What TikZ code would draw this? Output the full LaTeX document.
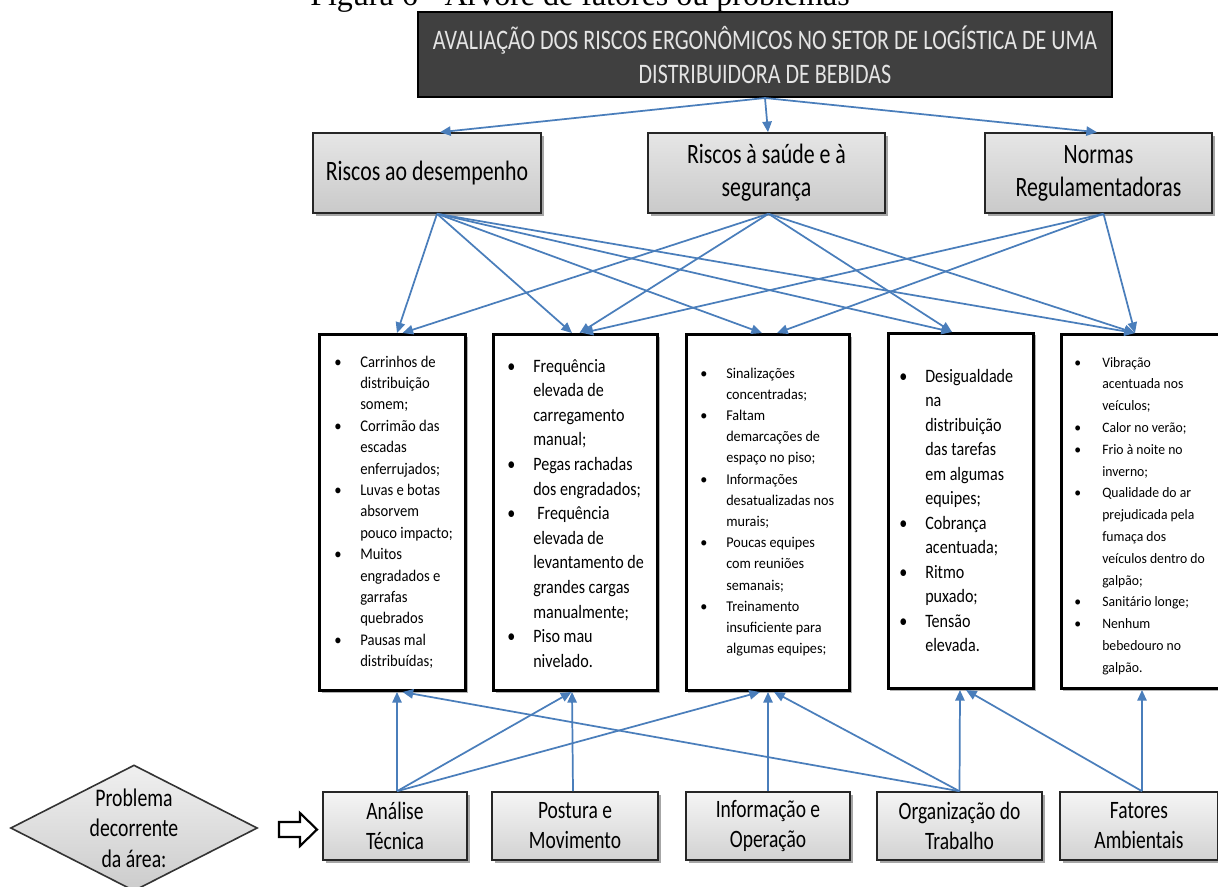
\documentclass[tikz,border=0pt]{standalone}
\usepackage{fontspec}
\setmainfont{Carlito}[FakeStretch=0.78]
\newfontfamily\listfont{Carlito}[FakeStretch=0.85]
\newfontfamily\tightfont{Carlito}[FakeStretch=0.95]
\newfontfamily\narrowfont{Carlito}[FakeStretch=0.9]
\newfontfamily\capfont{Liberation Serif}
\usetikzlibrary{shapes.geometric,shadows,arrows.meta,calc}
\definecolor{linkblue}{RGB}{74,126,187}
\definecolor{titlefill}{RGB}{64,64,64}
\definecolor{titletext}{RGB}{228,228,228}
\tikzset{
  conn/.style={draw=linkblue, line width=1.3pt, -{Triangle[length=8pt,width=7pt]}},
  upper/.style={draw=black!85, line width=1.2pt, top color=gray!20, bottom color=gray!42,
    inner sep=0pt, align=center, font=\fontsize{21}{24.75}\selectfont,
    drop shadow={shadow xshift=2pt, shadow yshift=-2pt, opacity=0.35, fill=black}},
  lower/.style={upper, top color=gray!8, bottom color=gray!35, font=\fontsize{18.75}{22.5}\selectfont},
  listbox/.style={draw=black, line width=2.2pt, fill=white, inner sep=0pt,
    drop shadow={shadow xshift=1.5pt, shadow yshift=-1.5pt, opacity=0.3, fill=black}},
  listtext/.style={anchor=base west, inner sep=0pt},
}
\begin{document}
\begin{tikzpicture}[x=0.75pt,y=-0.75pt]
\useasboundingbox (0,0) rectangle (1218,886);
\fill[white] (0,0) rectangle (1218,886);

% caption (cut off at the top, as in the source)
\node[anchor=base, inner sep=0pt, font=\capfont\fontsize{24}{28}\selectfont] (cap) at (580,5) {Figura 6 - Árvore de fatores ou problemas};

% title
\node[draw=black, line width=1.5pt, fill=titlefill, text=titletext, minimum width=520.5pt,
  minimum height=63.75pt, inner sep=0pt, align=center, font=\fontsize{21.2}{25.5}\selectfont]
  (T) at (765,54.5) {AVALIAÇÃO DOS RISCOS ERGONÔMICOS NO SETOR DE LOGÍSTICA DE UMA\\DISTRIBUIDORA DE BEBIDAS};

% upper level
\node[upper, minimum width=171pt, minimum height=60pt] (r1) at (427,173) {Riscos ao desempenho};
\node[upper, minimum width=177.75pt, minimum height=60pt] (r2) at (766.5,173) {Riscos à saúde e à\\segurança};
\node[upper, minimum width=170.25pt, minimum height=60pt] (r3) at (1098.5,173) {Normas\\Regulamentadoras};

% list boxes
\node[listbox, minimum width=109.5pt, minimum height=267pt] (b1) at (392.5,512.5) {};
\node[listbox, minimum width=123pt, minimum height=267pt] (b2) at (575.5,512.5) {};
\node[listbox, minimum width=122.3pt, minimum height=267pt] (b3) at (768,512.5) {};
\node[listbox, minimum width=108.8pt, minimum height=266.3pt] (b4) at (961,511) {};
\node[listbox, minimum width=119.3pt, minimum height=265.5pt] (b5) at (1141,511.5) {};

\node[listtext] (t1) at (334,367) {\narrowfont\fontsize{12.2}{16.05}\selectfont
\begin{tabular}[t]{@{}p{19.5pt}@{}l@{}}
\textbullet & Carrinhos de\\
 & distribuição\\
 & somem;\\
\textbullet & Corrimão das\\
 & escadas\\
 & enferrujados;\\
\textbullet & Luvas e botas\\
 & absorvem\\
 & pouco impacto;\\
\textbullet & Muitos\\
 & engradados e\\
 & garrafas\\
 & quebrados\\
\textbullet & Pausas mal\\
 & distribuídas;
\end{tabular}};

\node[listtext] (t2) at (507,372) {\listfont\fontsize{14.2}{18.45}\selectfont
\begin{tabular}[t]{@{}p{19.5pt}@{}l@{}}
\textbullet & Frequência\\
 & elevada de\\
 & carregamento\\
 & manual;\\
\textbullet & Pegas rachadas\\
 & dos engradados;\\
\textbullet & \hspace{3pt}Frequência\\
 & elevada de\\
 & levantamento de\\
 & grandes cargas\\
 & manualmente;\\
\textbullet & Piso mau\\
 & nivelado.
\end{tabular}};

\node[listtext] (t3) at (700,378) {\tightfont\fontsize{11.2}{15.9}\selectfont
\begin{tabular}[t]{@{}p{19.5pt}@{}l@{}}
\textbullet & Sinalizações\\
 & concentradas;\\
\textbullet & Faltam\\
 & demarcações de\\
 & espaço no piso;\\
\textbullet & Informações\\
 & desatualizadas nos\\
 & murais;\\
\textbullet & Poucas equipes\\
 & com reuniões\\
 & semanais;\\
\textbullet & Treinamento\\
 & insuficiente para\\
 & algumas equipes;
\end{tabular}};

\node[listtext] (t4) at (899,382) {\listfont\fontsize{14.2}{18.4}\selectfont
\begin{tabular}[t]{@{}p{19.5pt}@{}l@{}}
\textbullet & Desigualdade\\
 & na\\
 & distribuição\\
 & das tarefas\\
 & em algumas\\
 & equipes;\\
\textbullet & Cobrança\\
 & acentuada;\\
\textbullet & Ritmo\\
 & puxado;\\
\textbullet & Tensão\\
 & elevada.
\end{tabular}};

\node[listtext] (t5) at (1074,367) {\tightfont\fontsize{10.8}{16.35}\selectfont
\begin{tabular}[t]{@{}p{21pt}@{}l@{}}
\textbullet & Vibração\\
 & acentuada nos\\
 & veículos;\\
\textbullet & Calor no verão;\\
\textbullet & Frio à noite no\\
 & inverno;\\
\textbullet & Qualidade do ar\\
 & prejudicada pela\\
 & fumaça dos\\
 & veículos dentro do\\
 & galpão;\\
\textbullet & Sanitário longe;\\
\textbullet & Nenhum\\
 & bebedouro no\\
 & galpão.
\end{tabular}};

% bottom row
\node[lower, minimum width=108pt, minimum height=51pt] (a1) at (395,826) {Análise\\Técnica};
\node[lower, minimum width=124.5pt, minimum height=51pt] (a2) at (575,826) {Postura e\\Movimento};
\node[lower, minimum width=123pt, minimum height=51pt] (a3) at (768,826) {Informação e\\Operação};
\node[lower, minimum width=123.75pt, minimum height=51pt] (a4) at (959.5,826) {Organização do\\Trabalho};
\node[lower, minimum width=118.5pt, minimum height=51pt] (a5) at (1139,826) {Fatores\\Ambientais};

% diamond
\node[diamond, aspect=2, draw=black!80, line width=1.2pt, top color=gray!12, bottom color=gray!40,
  minimum width=183pt, minimum height=94.5pt, inner sep=0pt, align=center,
  font=\fontsize{19}{23}\selectfont] (dia) at (134,828) {Problema\\decorrente\\da área:};

% hollow arrow
\draw[line width=1.6pt, fill=white, line join=miter] (279,822) -- (300,822) -- (300,813) -- (317,829.5)
  -- (300,846) -- (300,837) -- (279,837) -- cycle;

% title arrows
\draw[conn] (T.south) -- ($(r1.north)+(13,0)$);
\draw[conn] (T.south) -- ($(r2.north)+(1.5,0)$);
\draw[conn] (T.south) -- ($(r3.north)+(-1.5,0)$);

% upper level -> list boxes
\draw[conn] ($(r1.south)+(10,0)$) -- ($(b1.north)+(4.5,0)$);
\draw[conn] ($(r1.south)+(10,0)$) -- ($(b2.north)+(-3.5,0)$);
\draw[conn] ($(r1.south)+(10,0)$) -- ($(b3.north)+(-6,0)$);
\draw[conn] ($(r1.south)+(10,0)$) -- ($(b4.north)+(-9,0)$);
\draw[conn] ($(r1.south)+(10,0)$) -- ($(b5.north)+(-6,0)$);
\draw[conn] ($(r2.south)+(2,0)$) -- ($(b1.north)+(10,0)$);
\draw[conn] ($(r2.south)+(2,0)$) -- ($(b2.north)+(4,0)$);
\draw[conn] ($(r2.south)+(2,0)$) -- ($(b4.north)+(-9,0)$);
\draw[conn] ($(r2.south)+(2,0)$) -- ($(b5.north)+(-6,0)$);
\draw[conn] ($(r3.south)+(5,0)$) -- ($(b2.north)+(7,0)$);
\draw[conn] ($(r3.south)+(5,0)$) -- ($(b3.north)+(9,0)$);
\draw[conn] ($(r3.south)+(5,0)$) -- ($(b5.north)+(-6,0)$);

% bottom row -> list boxes
\draw[conn] ($(a1.north)+(2,0)$) -- ($(b1.south)+(4.5,0)$);
\draw[conn] ($(a1.north)+(2,0)$) -- ($(b2.south)+(-4,0)$);
\draw[conn] ($(a1.north)+(2,0)$) -- ($(b3.south)+(-8,0)$);
\draw[conn] ($(a2.north)+(-2,0)$) -- ($(b2.south)+(-3.5,0)$);
\draw[conn] (a3.north) -- (b3.south);
\draw[conn] (a4.north) -- ($(b1.south)+(10,0)$);
\draw[conn] (a4.north) -- ($(b3.south)+(6,0)$);
\draw[conn] (a4.north) -- ($(b4.south)+(-1,0)$);
\draw[conn] ($(a5.north)+(3,0)$) -- ($(b4.south)+(5,0)$);
\draw[conn] ($(a5.north)+(3,0)$) -- ($(b5.south)+(1,0)$);
\end{tikzpicture}
\end{document}
